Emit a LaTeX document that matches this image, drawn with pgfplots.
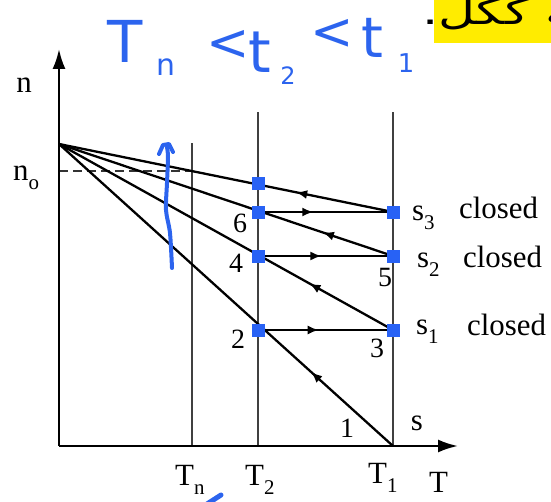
\documentclass[border=0pt]{standalone}
\usepackage{fontspec}
\setmainfont{Liberation Serif}
\newfontfamily\arabicfont[Script=Arabic]{DejaVu Sans}
\newfontfamily\handfont{DejaVu Sans}
\usepackage{pgfplots}
\pgfplotsset{compat=1.18}
\usetikzlibrary{arrows.meta,decorations.markings}
\TeXXeTstate=1

\definecolor{mark}{RGB}{40,98,245}
\definecolor{ink}{RGB}{44,100,238}
\definecolor{hl}{RGB}{255,236,0}

% lowered subscript in the text font
\newcommand\lsub[1]{\raisebox{-0.3em}{\fontsize{21}{21}\selectfont #1}}

\tikzset{
  midarrow/.style={postaction={decorate},
    decoration={markings, mark=at position #1 with {\arrow{Latex[length=11bp,width=9bp]}}}},
  lbl/.style={font=\fontsize{31}{33}\selectfont, inner sep=0pt},
  num/.style={font=\fontsize{28}{30}\selectfont, inner sep=0pt},
  hand/.style={font=\handfont\fontsize{#1}{#1}\selectfont, text=ink, inner sep=0pt},
}

\begin{document}
\begin{tikzpicture}
\begin{axis}[
  at={(0,0)}, anchor=south west,
  x=1bp, y=1bp,
  xmin=-59, xmax=492, ymin=-56, ymax=446,
  hide axis, clip=false,
]
% temperature levels T_n, T_2, T_1
\addplot[no marks, line width=1.5bp, black!75] coordinates {(133,0) (133,303)};
\addplot[no marks, line width=1.5bp, black!75] coordinates {(199,0) (199,334)};
\addplot[no marks, line width=1.5bp, black!75] coordinates {(334,0) (334,334)};

% n_o level
\addplot[no marks, line width=1.3bp, black!80, dash pattern=on 9bp off 5bp] coordinates {(0,275) (133,275)};

% axes
\addplot[no marks, line width=2.3bp, -{Latex[length=20bp,width=13bp]}] coordinates {(0,0) (399,0)};
\addplot[no marks, line width=2.3bp, -{Latex[length=20bp,width=13bp]}] coordinates {(0,0) (0,397)};

% lines of constant s, running back to the common point
\addplot[no marks, line width=2.3bp, midarrow=0.245] coordinates {(334,0) (0,302)};
\addplot[no marks, line width=2.3bp, midarrow=0.25] coordinates {(334,116) (0,302)};
\addplot[no marks, line width=2.3bp, midarrow=0.21] coordinates {(334,190) (0,302)};
\addplot[no marks, line width=2.3bp, midarrow=0.29] coordinates {(334,234) (0,302)};

% heating steps at constant n
\addplot[no marks, line width=2.3bp, midarrow=0.45] coordinates {(199,116) (334,116)};
\addplot[no marks, line width=2.3bp, midarrow=0.47] coordinates {(199,190) (334,190)};
\addplot[no marks, line width=2.3bp, midarrow=0.41] coordinates {(199,234) (334,234)};

% states
\addplot[only marks, mark=square*, mark size=6.3bp, draw=mark, fill=mark]
  coordinates {(199,263) (199,234) (199,190) (199,116) (334,234) (334,190) (334,116)};

% labels
\node[lbl, anchor=base] at (axis cs:-35,353) {n};
\node[lbl, anchor=base west] at (axis cs:-46,266) {n\lsub{o}};
\node[lbl, anchor=base west] at (axis cs:116,-39) {T\lsub{n}};
\node[lbl, anchor=base west] at (axis cs:186,-39) {T\lsub{2}};
\node[lbl, anchor=base west] at (axis cs:309,-37) {T\lsub{1}};
\node[lbl, anchor=base west] at (axis cs:370,-46) {T};
\node[lbl, anchor=base] at (axis cs:358,16) {s};
\node[num, anchor=base] at (axis cs:288,9) {1};
\node[num, anchor=base] at (axis cs:179,98) {2};
\node[num, anchor=base] at (axis cs:318,89) {3};
\node[num, anchor=base] at (axis cs:177,174) {4};
\node[num, anchor=base] at (axis cs:326,160) {5};
\node[num, anchor=base] at (axis cs:181,214) {6};
\node[lbl, anchor=base west] at (axis cs:353,226) {s\lsub{3}};
\node[lbl, anchor=base west] at (axis cs:400,228) {closed};
\node[lbl, anchor=base west] at (axis cs:358,179) {s\lsub{2}};
\node[lbl, anchor=base west] at (axis cs:404,179) {closed};
\node[lbl, anchor=base west] at (axis cs:357,112) {s\lsub{1}};
\node[lbl, anchor=base west] at (axis cs:408,111) {closed};

% highlighted text line
\fill[hl] (axis cs:375,403) rectangle (axis cs:500,446);
\node[inner sep=0pt, anchor=base west] at (axis cs:363,421)
  {\scalebox{1.42}[1]{\arabicfont\fontsize{36}{38}\selectfont\beginR ـة ككل.\endR}};

% pen notes
\node[hand=58] at (axis cs:66,405) {T};
\node[hand=30] at (axis cs:107,379) {n};
\node[hand=52] at (axis cs:169,401) {<};
\node[hand=58] at (axis cs:201,394) {t};
\node[hand=24] at (axis cs:229,370) {2};
\node[hand=52] at (axis cs:273,412) {<};
\node[hand=56] at (axis cs:313,408) {t};
\node[hand=26] at (axis cs:347,383) {1};
\addplot[no marks, smooth, line width=4bp, line cap=round, ink]
  coordinates {(113,178) (111,213) (107,236) (108,263) (109,289) (108,299)};
\addplot[no marks, line width=4bp, line cap=round, line join=round, ink]
  coordinates {(100,292) (104,301) (110,302) (114,294)};
\addplot[no marks, line width=5bp, line cap=round, ink]
  coordinates {(148,-58) (162,-49)};
\end{axis}
\pgfresetboundingbox
\useasboundingbox (0,0) rectangle (551bp,502bp);
\end{tikzpicture}
\end{document}
